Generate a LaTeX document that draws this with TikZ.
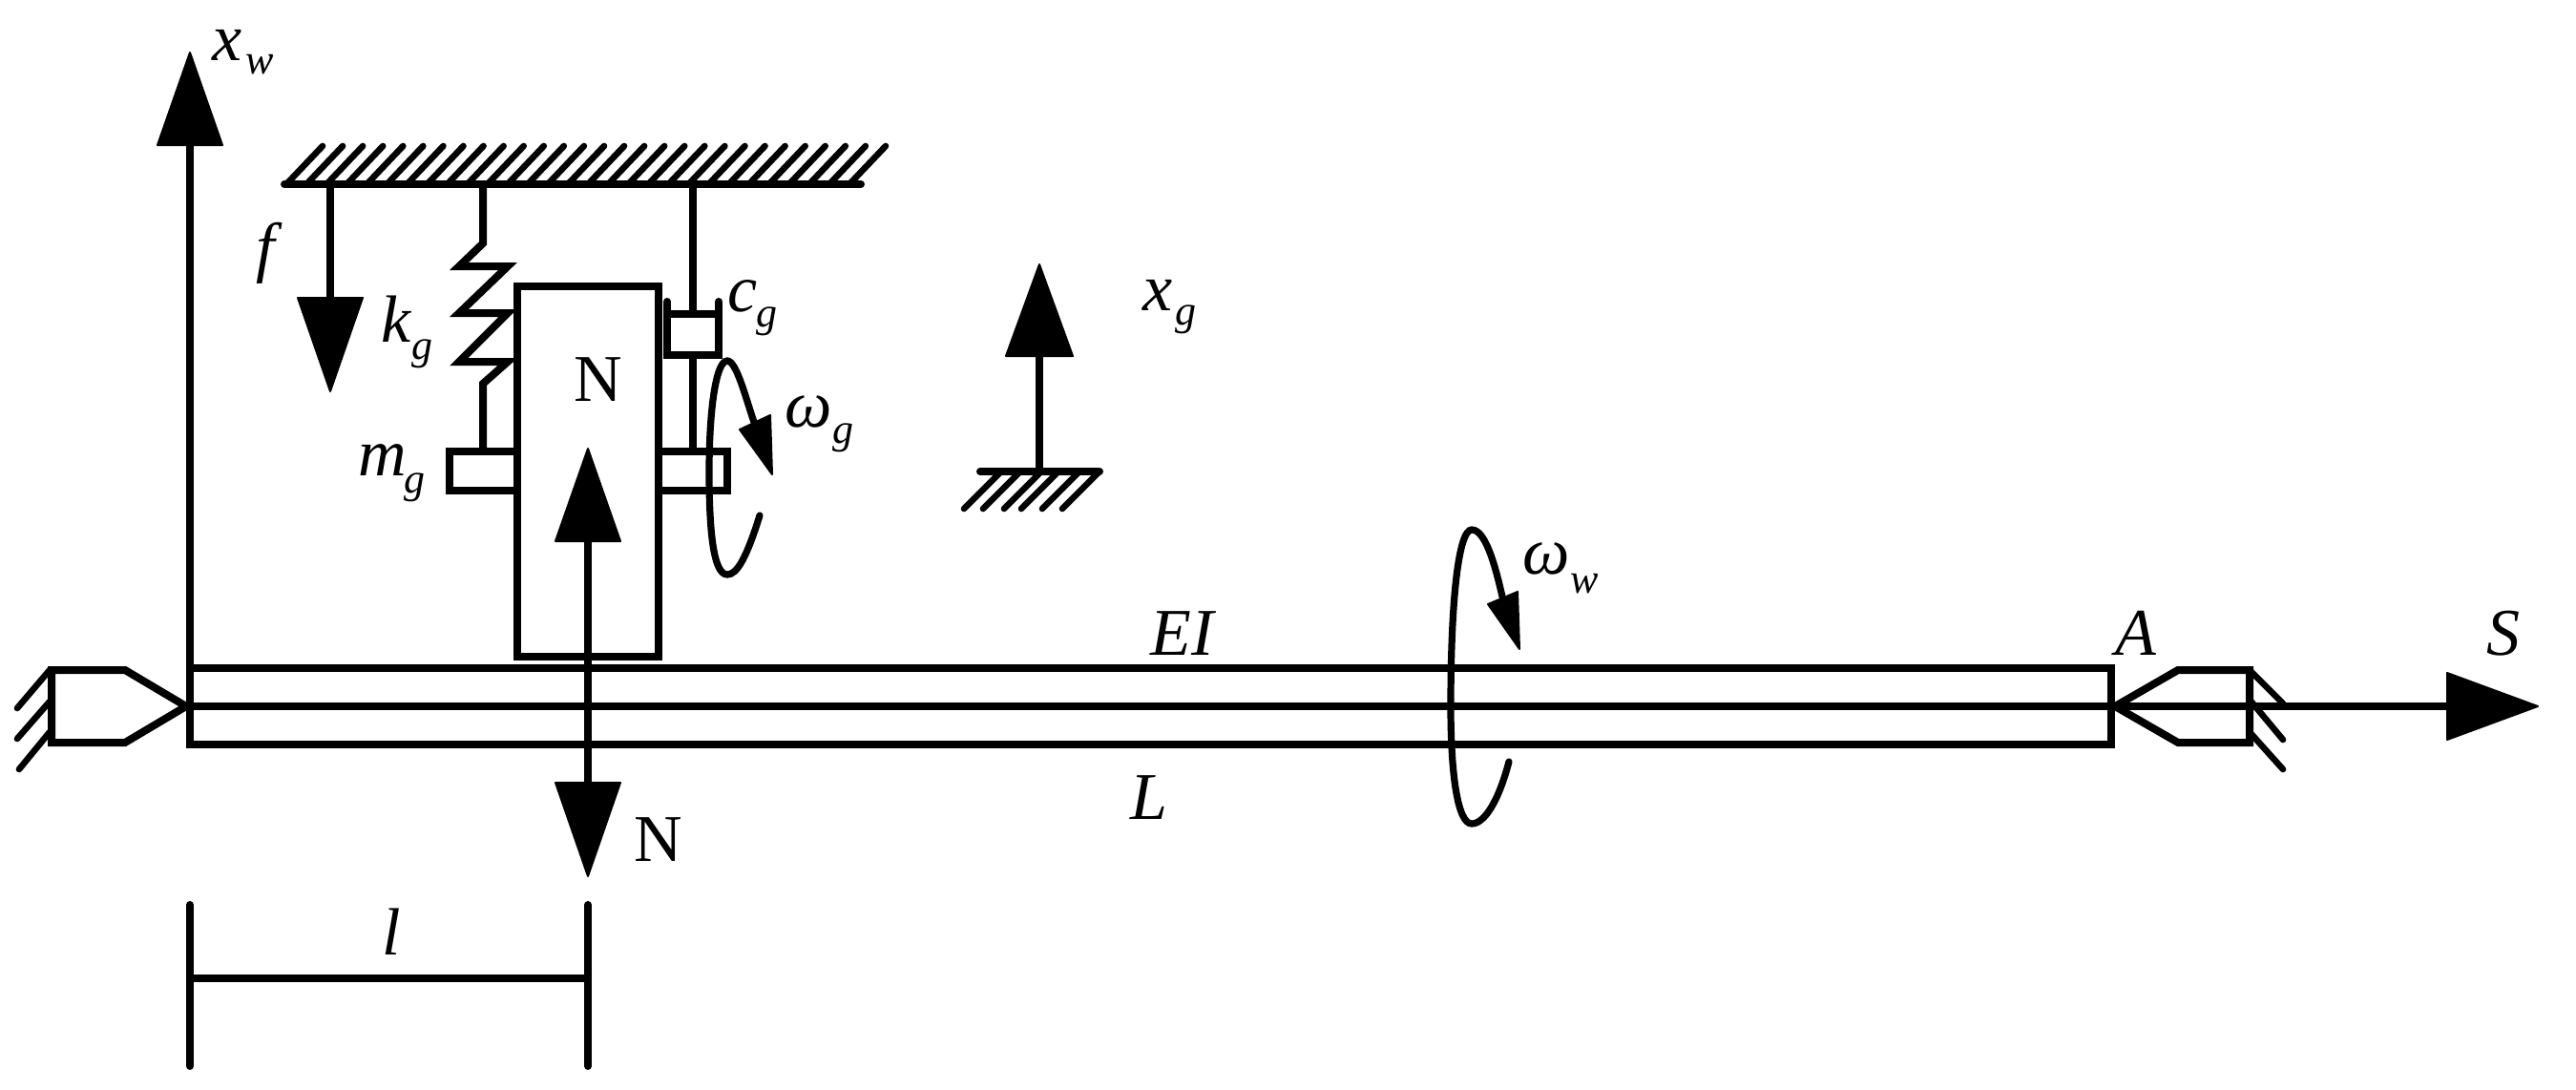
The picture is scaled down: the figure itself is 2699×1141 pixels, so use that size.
\documentclass[tikz,border=0pt]{standalone}
\usepackage{fontspec}
\setmainfont{Liberation Serif}
\tikzset{
  x=0.5pt,y=-0.5pt,
  thick line/.style={line width=4pt,line join=miter},
  hatch line/.style={line width=3.3pt,line cap=round},
  swirl line/.style={line width=3.6pt,line cap=round},
  solid head/.style={fill=black,draw=black,line width=1pt,line join=round},
  main label/.style={inner sep=0pt,anchor=base west,font=\fontsize{35}{35}\selectfont\itshape},
  upright label/.style={inner sep=0pt,anchor=base west,font=\fontsize{35}{35}\selectfont},
  sub label/.style={inner sep=0pt,anchor=base west,font=\fontsize{22}{22}\selectfont\itshape},
}
\begin{document}
\begin{tikzpicture}
\useasboundingbox (0,0) rectangle (2699,1141);
\fill[white] (0,0) rectangle (2699,1141);
% x_w axis
\coordinate (axisBot) at (199,780);
\coordinate (axisBase) at (199,152);
\draw[thick line] (axisBot) -- (axisBase);
\draw[solid head] (199,55) -- (233,152) -- (165,152) -- cycle;
% top ground
\coordinate (gndL) at (298,193);
\coordinate (gndR) at (902,193);
\foreach \i in {0,...,28}{
  \draw[hatch line] ({300+21.07*\i},193) -- ({338+21.07*\i},153);
}
\draw[thick line,line cap=round] (gndL) -- (gndR);
% f
\draw[thick line] (346,193) -- (346,312);
\draw[solid head] (346,410) -- (380,312) -- (312,312) -- cycle;
% spring
\draw[thick line] (506,193) -- (506,255) -- (481,279) -- (532,279) -- (481,328) -- (532,328) -- (481,379) -- (532,379) -- (506,402) -- (506,473);
% damper
\draw[thick line] (726,193) -- (726,329);
\draw[thick line,line cap=round] (699,316) -- (699,372) -- (753,372) -- (753,316);
\draw[thick line] (699,329) -- (753,329);
\draw[thick line] (726,372) -- (726,473);
% box and masses
\draw[thick line] (542,300) rectangle (690,688);
\draw[thick line] (542,473) -- (471,473) -- (471,514) -- (542,514);
\draw[thick line] (690,473) -- (762,473) -- (762,514) -- (690,514);
% central arrows
\draw[thick line] (616,567) -- (616,820);
\draw[solid head] (616,470) -- (650,567) -- (582,567) -- cycle;
\draw[solid head] (616,918) -- (650,820) -- (582,820) -- cycle;
% beam
\draw[thick line] (199,700) rectangle (2212,780);
\draw[thick line] (199,740) -- (2564,740);
% supports
\draw[thick line] (54,702) -- (131,702) -- (195,740) -- (131,778) -- (54,778) -- cycle;
\draw[hatch line] (52,702) -- (18,742);
\draw[hatch line] (52,735) -- (18,774);
\draw[hatch line] (52,767) -- (20,806);
\draw[thick line] (2216,740) -- (2282,702) -- (2357,702) -- (2357,778) -- (2282,778) -- cycle;
\draw[hatch line] (2357,702) -- (2392,737);
\draw[hatch line] (2357,733) -- (2392,775);
\draw[hatch line] (2357,767) -- (2392,806);
\draw[solid head] (2659,740) -- (2564,775) -- (2564,705) -- cycle;
% x_g
\draw[thick line] (1089,373) -- (1089,494);
\draw[solid head] (1089,277) -- (1124,373) -- (1054,373) -- cycle;
\coordinate (g2L) at (1027,494);
\coordinate (g2R) at (1152,494);
\foreach \xb in {1010,1030,1052,1070,1092,1113}{
  \draw[hatch line] (\xb,533) -- ({\xb+39},494);
}
\draw[thick line,line cap=round] (g2L) -- (g2R);
% dimension
\draw[thick line,line cap=round] (199,948) -- (199,1117);
\draw[thick line,line cap=round] (616,948) -- (616,1117);
\draw[thick line] (199,1025) -- (616,1025);
% swirl g
\draw[swirl line] (796,540) .. controls (782,585) and (772,602) .. (762,602) .. controls (748,602) and (743,560) .. (743,494) .. controls (743,430) and (750,378) .. (762,378) .. controls (772,378) and (782,420) .. (791,445);
\draw[solid head] (809,497) -- (775,450) -- (807,435) -- cycle;
% swirl w
\draw[swirl line] (1581,798) .. controls (1570,840) and (1555,863) .. (1542,863) .. controls (1527,863) and (1520,810) .. (1520,740) .. controls (1520,630) and (1528,555) .. (1542,555) .. controls (1556,555) and (1566,590) .. (1574,625);
\draw[solid head] (1592,680) -- (1559,633) -- (1590,620) -- cycle;
% labels
\node[main label] (xw) at (222,63) {x};
\node[sub label] (xwsub) at (257,77) {w};
\node[main label] (flab) at (268,282) {f};
\node[main label] (kg) at (399,358) {k};
\node[sub label] (kgsub) at (431,376) {g};
\node[main label] (mg) at (375,498) {m};
\node[sub label] (mgsub) at (423,516) {g};
\node[main label] (cg) at (762,326) {c};
\node[sub label] (cgsub) at (792,342) {g};
\node[main label] (og) at (822,447) {ω};
\node[sub label] (ogsub) at (872,464) {g};
\node[main label] (xg) at (1197,325) {x};
\node[sub label] (xgsub) at (1231,340) {g};
\node[main label] (ow) at (1595,601) {ω};
\node[sub label] (owsub) at (1645,621) {w};
\node[main label] (EI) at (1205,686) {EI};
\node[main label] (Llab) at (1184,858) {L};
\node[main label] (Alab) at (2216,686) {A};
\node[main label] (Slab) at (2605,686) {S};
\node[main label] (llab) at (400,1000) {l};
\node[upright label] (N1) at (601,420) {N};
\node[upright label] (N2) at (664,902) {N};
\end{tikzpicture}
\end{document}
